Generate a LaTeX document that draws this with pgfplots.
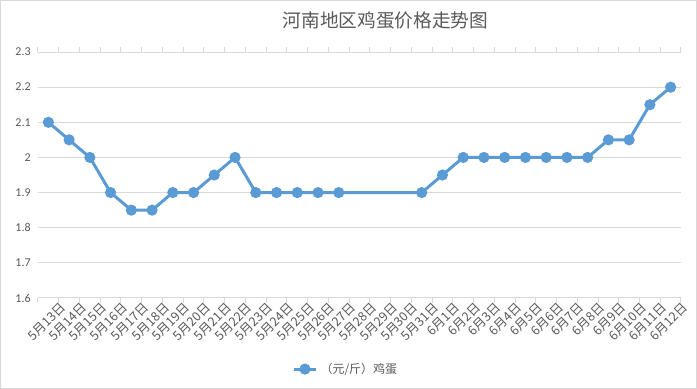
\documentclass[border=0pt]{standalone}
\usepackage{pgfplots}
\pgfplotsset{compat=1.18}
\usepackage{fontspec}
\setmainfont{Noto Sans CJK SC}
\newfontfamily\numfont{Carlito}
\definecolor{linec}{HTML}{5B9BD5}
\definecolor{gridc}{HTML}{D9D9D9}
\definecolor{txt}{HTML}{595959}
\begin{document}
\begin{tikzpicture}[x=0.75pt,y=0.75pt]
\draw[gridc, line width=0.75pt] (0.5,0.5) rectangle (696.5,388.5);
\node[txt, font=\fontsize{14}{16}\selectfont] at (385.5,369) {河南地区鸡蛋价格走势图};
\coordinate (A) at (38,91);
\begin{axis}[
  at={(A)}, anchor=south west,
  scale only axis, width=643*0.75pt, height=246*0.75pt,
  xmin=-0.5, xmax=30.5, ymin=1.6, ymax=2.3,
  ytick={1.6,1.7,...,2.3},
  yticklabels={1.6,1.7,1.8,1.9,2,2.1,2.2,2.3},
  yticklabel style={font=\numfont\fontsize{9}{10}\selectfont, text=txt, xshift=-2pt},
  ymajorgrids, grid style={gridc, line width=0.75pt},
  axis line style={draw=none},
  xtick={0,...,30},
  xticklabels={5月13日,5月14日,5月15日,5月16日,5月17日,5月18日,5月19日,5月20日,5月21日,5月22日,5月23日,5月24日,5月25日,5月26日,5月27日,5月28日,5月29日,5月30日,5月31日,6月1日,6月2日,6月3日,6月4日,6月5日,6月6日,6月7日,6月8日,6月9日,6月10日,6月11日,6月12日},
  xticklabel style={rotate=45, anchor=north east, font=\fontsize{9.5}{10}\selectfont, text=txt, inner sep=0pt, xshift=4pt, yshift=-7.5pt},
  minor xtick={-0.5,0.5,...,30.5},
  major tick length=0pt, minor tick length=3.75pt,
  xtick align=outside,
  minor x tick style={gridc, line width=0.75pt},
  ytick style={draw=none},
  major x tick style={draw=none},
  clip=false,
  legend style={at={(0.479,-0.289)}, anchor=center, draw=none, fill=none, font=\fontsize{9}{10}\selectfont, text=txt},
  legend cell align=left,
]
\addplot[linec, line width=2.25pt, mark=*, mark size=3pt, mark options={solid, fill=linec, draw=none}] coordinates {
(0,2.1) (1,2.05) (2,2.0) (3,1.9) (4,1.85) (5,1.85) (6,1.9) (7,1.9) (8,1.95) (9,2.0)
(10,1.9) (11,1.9) (12,1.9) (13,1.9) (14,1.9) (18,1.9) (19,1.95) (20,2.0) (21,2.0) (22,2.0)
(23,2.0) (24,2.0) (25,2.0) (26,2.0) (27,2.05) (28,2.05) (29,2.15) (30,2.2)
};
\addlegendentry{（元/斤）鸡蛋}
\end{axis}
\end{tikzpicture}
\end{document}
